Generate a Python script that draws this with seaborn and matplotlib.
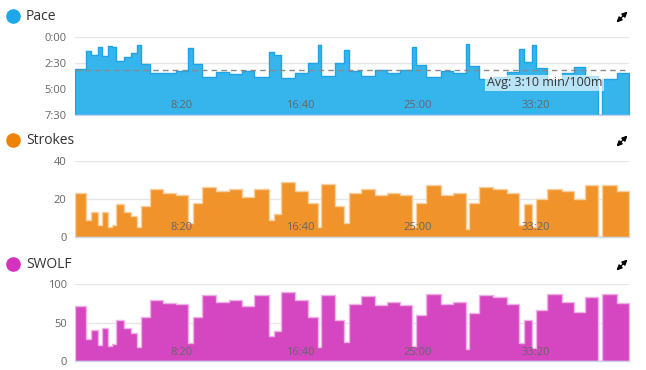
import numpy as np
import pandas as pd
import matplotlib
matplotlib.use("Agg")
import matplotlib.pyplot as plt
import seaborn as sns
from matplotlib.lines import Line2D
from matplotlib.patches import FancyArrowPatch
from matplotlib.transforms import blended_transform_factory

# ---- data ----
# lap boundaries in elapsed seconds
lap_edges = [46, 93, 115, 144, 159, 187, 203, 219, 253, 285, 310, 325, 366, 419, 473,
             527, 547, 586, 644, 700, 755, 807, 868, 891, 922, 981, 1036, 1076, 1090,
             1149, 1188, 1209, 1260, 1319, 1371, 1425, 1478, 1495, 1537, 1599, 1652,
             1704, 1717, 1761, 1821, 1878, 1932, 1952, 1987, 2001, 2048, 2112, 2165,
             2211, 2267, 2281, 2345, 2397]
# pace in seconds per 100 m (nan = rest)
pace = [189, 81, 105, 62, 112, 52, 58, 141, 118, 96, 49, 159, 212, 208, 199, 66, 156,
        232, 202, 216, 199, 234, 88, 107, 240, 210, 152, 49, 225, 150, 75, 200, 227,
        191, 210, 193, 60, 163, 234, 199, 208, 43, 168, 242, 232, 202, 70, 145, 50,
        180, 252, 212, 177, 226, np.nan, 246, 208]
strokes = [23, 9, 13, 6, 13, 5, 6, 17, 13, 11, 5, 16, 25, 23, 22, 7, 18, 26, 24, 25,
           21, 25, 9, 12, 29, 24, 18, 5, 28, 16, 7, 23, 25, 22, 23, 22, 5, 18, 27, 22,
           23, 4, 18, 26, 25, 23, 6, 17, 5, 20, 25, 24, 20, 27, np.nan, 27, 24]
swolf = [72, 29, 40, 21, 43, 19, 22, 53, 43, 36, 18, 57, 79, 76, 74, 24, 57, 86, 77,
         80, 72, 86, 32, 39, 90, 79, 57, 18, 86, 54, 25, 74, 85, 73, 77, 73, 20, 60,
         87, 74, 77, 15, 62, 86, 83, 74, 23, 53, 17, 66, 88, 77, 64, 83, np.nan, 88, 75]

x_ticks = [500, 1000, 1500, 2000]
x_tick_labels = ["8:20", "16:40", "25:00", "33:20"]
pace_ticks = [0, 150, 300, 450]
pace_tick_labels = ["0:00", "2:30", "5:00", "7:30"]
strokes_ticks = [0, 20, 40]
swolf_ticks = [0, 50, 100]
avg_pace = 190
avg_label = "Avg: 3:10 min/100m"
titles = ["Pace", "Strokes", "SWOLF"]

# ---- styling ----
sns.set_theme(style="white")
plt.rcParams["font.family"] = ["Open Sans", "DejaVu Sans"]

W, H = 646, 370
fig = plt.figure(figsize=(W / 100, H / 100), dpi=100)

edges = [float(e) for e in lap_edges]
mid = [(a + b) / 2 for a, b in zip(edges[:-1], edges[1:])]
PACE_MAX = 450
df = pd.DataFrame({
    "mid": mid,
    "pace_h": PACE_MAX - np.array(pace, dtype=float),
    "strokes": np.array(strokes, dtype=float),
    "swolf": np.array(swolf, dtype=float),
})

def px_rect(top, bottom, left=75, right=629):
    return [left / W, 1 - bottom / H, (right - left) / W, (bottom - top) / H]

panels = [
    dict(col="pace_h", rect=px_rect(36.7, 114.5), fill="#36b4ec", edge="#1da3e6",
         dot="#1ea7ea", ylim=(0, PACE_MAX), ticks=[PACE_MAX - t for t in pace_ticks],
         labels=pace_tick_labels, title=titles[0], ty=16),
    dict(col="strokes", rect=px_rect(160.7, 236.7), fill="#f0932a", edge="#f9cf9f",
         dot="#ef8307", ylim=(0, 40), ticks=strokes_ticks,
         labels=[str(t) for t in strokes_ticks], title=titles[1], ty=140),
    dict(col="swolf", rect=px_rect(284.3, 361), fill="#d546c1", edge="#efb0e6",
         dot="#d531bf", ylim=(0, 100), ticks=swolf_ticks,
         labels=[str(t) for t in swolf_ticks], title=titles[2], ty=264),
]

for p in panels:
    ax = fig.add_axes(p["rect"])
    sub = df.dropna(subset=[p["col"]]).reset_index(drop=True)
    sns.histplot(x=sub["mid"].to_numpy(), weights=sub[p["col"]].to_numpy(),
                 bins=edges, stat="count",
                 element="step", fill=True, color=p["fill"], alpha=1,
                 edgecolor=p["edge"], linewidth=1.0, ax=ax, zorder=2)
    ax.set_xlim(edges[0], edges[-1])
    ax.set_ylim(*p["ylim"])
    ax.set_yticks(p["ticks"])
    ax.set_yticklabels(p["labels"])
    ax.set_xticks([])
    ax.set_xlabel("")
    ax.set_ylabel("")
    ax.grid(axis="y", color="#e6e6e6", lw=1)
    ax.set_axisbelow(True)
    for s in ["top", "left", "right"]:
        ax.spines[s].set_visible(False)
    ax.spines["bottom"].set_color("#ccd6eb")
    ax.spines["bottom"].set_linewidth(1)
    ax.spines["bottom"].set_zorder(3)
    ax.tick_params(axis="y", length=0, pad=6, labelsize=8, labelcolor="#666666")
    tr = blended_transform_factory(ax.transData, ax.transAxes)
    for t, lab in zip(x_ticks, x_tick_labels):
        ax.text(t, 0.115, lab, transform=tr, ha="center", va="center",
                fontsize=8, color="#666666", zorder=6)
    # title with coloured dot
    fig.add_artist(Line2D([13 / W], [1 - p["ty"] / H], marker="o", markersize=9.5,
                          color=p["dot"], transform=fig.transFigure, linestyle="none"))
    fig.text(26 / W, 1 - p["ty"] / H, p["title"], ha="left", va="center",
             fontsize=10, color="#333333")
    # expand icon
    cx, cy = 622 / 100, (H - (p["ty"] + 1)) / 100
    for dx, dy in [(1, 1), (-1, -1)]:
        fig.add_artist(FancyArrowPatch((cx + dx * 0.005, cy + dy * 0.005),
                                       (cx + dx * 0.055, cy + dy * 0.055),
                                       transform=fig.dpi_scale_trans, arrowstyle="-|>",
                                       mutation_scale=7, color="black", lw=1.2,
                                       shrinkA=0, shrinkB=0))
    if p["col"] == "pace_h":
        ax.axhline(PACE_MAX - avg_pace, color="#8a8a8a", lw=1, ls=(0, (4, 3)), zorder=4)
        ax.text(2039, PACE_MAX - 265, avg_label, ha="center", va="center",
                fontsize=9, color="#333333", zorder=7,
                bbox=dict(boxstyle="square,pad=0.12", facecolor="white", alpha=0.65,
                          edgecolor="none"))

fig.savefig("out.png", dpi=100)
